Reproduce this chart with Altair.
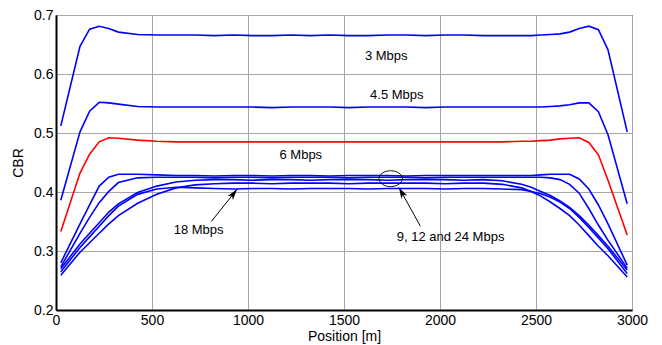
import altair as alt
import pandas as pd

# ---------------- data ----------------
positions = [25, 125, 175, 225, 275, 325,
             425, 525, 625, 725, 825, 925, 1025, 1125, 1225, 1325, 1425, 1525, 1625, 1725,
             1825, 1925, 2025, 2125, 2225, 2325, 2425,
             2475, 2525, 2575, 2625, 2675, 2725, 2775, 2825, 2875, 2975]

cbr_3 = [0.512, 0.647, 0.676, 0.681, 0.677, 0.671,
         0.667, 0.666, 0.666, 0.666, 0.665, 0.666, 0.665, 0.665, 0.666, 0.665, 0.666, 0.665, 0.665, 0.666,
         0.666, 0.665, 0.666, 0.666, 0.665, 0.665, 0.665,
         0.665, 0.666, 0.667, 0.668, 0.671, 0.677, 0.681, 0.675, 0.641, 0.502]
cbr_45 = [0.386, 0.502, 0.537, 0.552, 0.551, 0.549,
          0.545, 0.544, 0.544, 0.544, 0.544, 0.544, 0.544, 0.543, 0.544, 0.544, 0.544, 0.543, 0.544, 0.544,
          0.544, 0.543, 0.544, 0.544, 0.544, 0.544, 0.544,
          0.544, 0.544, 0.545, 0.546, 0.548, 0.551, 0.551, 0.536, 0.497, 0.380]
cbr_6 = [0.333, 0.432, 0.464, 0.485, 0.492, 0.491,
         0.488, 0.486, 0.485, 0.485, 0.485, 0.485, 0.485, 0.485, 0.485, 0.485, 0.485, 0.485, 0.485, 0.485,
         0.485, 0.485, 0.485, 0.485, 0.485, 0.485, 0.486,
         0.486, 0.487, 0.488, 0.490, 0.491, 0.492, 0.484, 0.463, 0.420, 0.327]
cbr_9 = [0.280, 0.346, 0.378, 0.410, 0.425, 0.430,
         0.430, 0.429, 0.428, 0.428, 0.427, 0.428, 0.428, 0.427, 0.428, 0.428, 0.427, 0.428, 0.428, 0.428,
         0.427, 0.428, 0.428, 0.428, 0.428, 0.428, 0.428,
         0.428, 0.429, 0.430, 0.430, 0.430, 0.422, 0.405, 0.378, 0.346, 0.276]
cbr_12 = [0.273, 0.330, 0.357, 0.382, 0.401, 0.416,
          0.424, 0.425, 0.425, 0.425, 0.424, 0.425, 0.425, 0.424, 0.425, 0.425, 0.425, 0.424, 0.425, 0.425,
          0.425, 0.424, 0.425, 0.425, 0.425, 0.425, 0.425,
          0.425, 0.425, 0.424, 0.421, 0.413, 0.398, 0.372, 0.344, 0.318, 0.271]
cbr_24 = [0.270, 0.312, 0.330, 0.348, 0.366, 0.380,
          0.399, 0.410, 0.417, 0.420, 0.421, 0.421, 0.420, 0.421, 0.421, 0.420, 0.421, 0.421, 0.421, 0.420,
          0.421, 0.421, 0.421, 0.420, 0.421, 0.419, 0.413,
          0.408, 0.401, 0.394, 0.385, 0.374, 0.360, 0.344, 0.326, 0.308, 0.268]
cbr_18 = [0.265, 0.306, 0.324, 0.342, 0.360, 0.376,
          0.396, 0.405, 0.408, 0.407, 0.406, 0.405, 0.406, 0.406, 0.405, 0.406, 0.406, 0.406, 0.405, 0.406,
          0.406, 0.406, 0.405, 0.406, 0.406, 0.405, 0.404,
          0.401, 0.397, 0.391, 0.383, 0.372, 0.357, 0.340, 0.322, 0.304, 0.262]
cbr_27 = [0.259, 0.298, 0.314, 0.330, 0.346, 0.360,
          0.381, 0.396, 0.407, 0.412, 0.414, 0.415, 0.415, 0.414, 0.415, 0.415, 0.415, 0.414, 0.415, 0.415,
          0.415, 0.415, 0.414, 0.415, 0.415, 0.413, 0.407,
          0.401, 0.393, 0.383, 0.372, 0.360, 0.344, 0.326, 0.308, 0.292, 0.256]

series_names = ["3 Mbps", "4.5 Mbps", "6 Mbps", "9 Mbps", "12 Mbps", "24 Mbps", "18 Mbps", "27 Mbps"]
series_values = [cbr_3, cbr_45, cbr_6, cbr_9, cbr_12, cbr_24, cbr_18, cbr_27]
series_colors = ["#0000ff", "#0000ff", "#ff0000", "#0000ff", "#0000ff", "#0000ff", "#0000ff", "#0000ff"]

x_ticks = [0, 500, 1000, 1500, 2000, 2500, 3000]
y_ticks = [0.2, 0.3, 0.4, 0.5, 0.6, 0.7]

# text annotations
label_texts = ["3 Mbps", "4.5 Mbps", "6 Mbps", "18 Mbps", "9, 12 and 24 Mbps"]
label_pos = [1720, 1775, 1275, 743, 2055]
label_cbr = [0.631, 0.564, 0.463, 0.336, 0.324]

# arrows: tail -> tip
arrow_ids = ["a18", "a18", "a9", "a9"]
arrow_pos = [809, 943, 1898, 1786]
arrow_cbr = [0.350, 0.4046, 0.342, 0.4077]
arrow_angles = [38, 331]

# ellipse marking the 9/12/24 Mbps group
ellipse_pos = [1743]
ellipse_cbr = [0.4226]

# ---------------- build ----------------
rows = []
for name, vals in zip(series_names, series_values):
    assert len(vals) == len(positions)
    for p, v in zip(positions, vals):
        rows.append({"position": p, "cbr": v, "series": name})
df = pd.DataFrame(rows)

W, H = 576, 295
xs = alt.Scale(domain=[0, 3000], nice=False, zero=False)
ys = alt.Scale(domain=[0.2, 0.7], nice=False, zero=False)

x_enc = alt.X("position:Q", scale=xs,
              axis=alt.Axis(title="Position [m]", values=x_ticks, format="d", labelFlush=False,
                            labelPadding=3, titlePadding=2))
y_enc = alt.Y("cbr:Q", scale=ys,
              axis=alt.Axis(title="CBR", values=y_ticks, format=".1f", labelFlush=False,
                            labelPadding=3, titlePadding=8))

lines = alt.Chart(df).mark_line(strokeWidth=1.6, clip=True).encode(
    x=x_enc, y=y_enc,
    color=alt.Color("series:N", scale=alt.Scale(domain=series_names, range=series_colors), legend=None),
)

lab_df = pd.DataFrame({"position": label_pos, "cbr": label_cbr, "text": label_texts})
texts = alt.Chart(lab_df).mark_text(font="Liberation Sans", fontSize=13, color="black").encode(
    x=alt.X("position:Q", scale=xs), y=alt.Y("cbr:Q", scale=ys), text="text:N")

arr_df = pd.DataFrame({"position": arrow_pos, "cbr": arrow_cbr, "id": arrow_ids})
arrows = alt.Chart(arr_df).mark_line(color="black", strokeWidth=1).encode(
    x=alt.X("position:Q", scale=xs), y=alt.Y("cbr:Q", scale=ys), detail="id:N")

head_shape = "M0,0 L-0.6,2 L0,1.5 L0.6,2 Z"
heads = []
for k in range(2):
    hd = pd.DataFrame({"position": [arrow_pos[2 * k + 1]], "cbr": [arrow_cbr[2 * k + 1]]})
    heads.append(alt.Chart(hd).mark_point(shape=head_shape, size=120, filled=True, color="black",
                                          opacity=1, angle=arrow_angles[k]).encode(
        x=alt.X("position:Q", scale=xs), y=alt.Y("cbr:Q", scale=ys)))

ell_df = pd.DataFrame({"position": ellipse_pos, "cbr": ellipse_cbr})
ellipse = alt.Chart(ell_df).mark_point(
    shape="M-1,0 A1,0.68 0 1,1 1,0 A1,0.68 0 1,1 -1,0 Z", size=545, filled=False,
    color="black", strokeWidth=0.9, opacity=1).encode(
    x=alt.X("position:Q", scale=xs), y=alt.Y("cbr:Q", scale=ys))

chart = alt.layer(lines, arrows, *heads, ellipse, texts).properties(
    width=W, height=H,
    autosize=alt.AutoSizeParams(type="none"),
    padding={"left": 48, "top": 7, "right": 16, "bottom": 36},
    background="white",
).configure_view(stroke="black", strokeWidth=1).configure_axis(
    domainColor="black", domainWidth=2, grid=True, gridColor="#a6a6a6", gridWidth=1,
    tickSize=0, labelFont="Liberation Sans", labelFontSize=14, labelColor="black",
    titleFont="Liberation Sans", titleFontSize=14, titleFontWeight="normal", titleColor="black",
)

chart.save("out.html", embed_options={"renderer": "svg", "actions": False})
